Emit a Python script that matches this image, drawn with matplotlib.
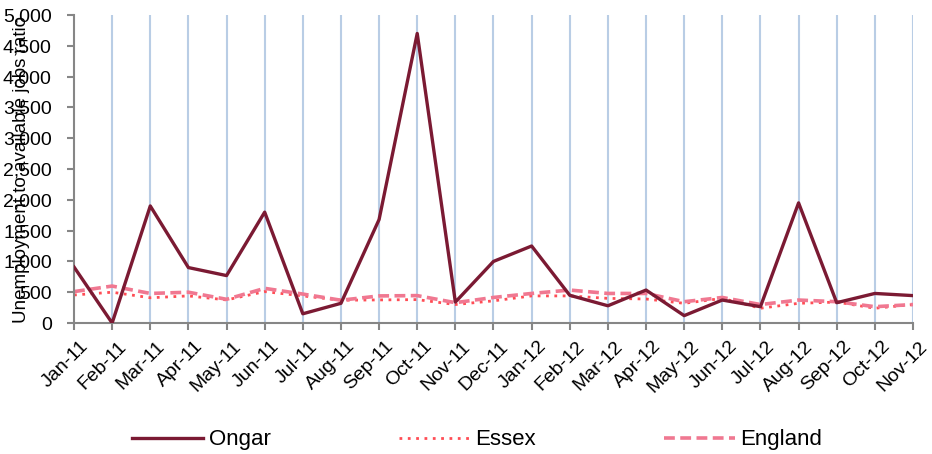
import numpy as np
import matplotlib
matplotlib.use('Agg')
import matplotlib.pyplot as plt
import matplotlib.transforms as mtrans
from matplotlib.ticker import FuncFormatter

plt.rcParams['font.family'] = ['Liberation Sans', 'DejaVu Sans']

months = ['Jan-11', 'Feb-11', 'Mar-11', 'Apr-11', 'May-11', 'Jun-11', 'Jul-11', 'Aug-11',
          'Sep-11', 'Oct-11', 'Nov-11', 'Dec-11', 'Jan-12', 'Feb-12', 'Mar-12', 'Apr-12',
          'May-12', 'Jun-12', 'Jul-12', 'Aug-12', 'Sep-12', 'Oct-12', 'Nov-12']

ongar = [910, 0, 1900, 900, 770, 1800, 150, 320, 1680, 4700, 340, 1000, 1250,
         450, 280, 535, 120, 373, 265, 1950, 330, 480, 445]
essex = [455, 500, 410, 440, 375, 510, 440, 370, 375, 380, 300, 360, 440,
         440, 400, 390, 320, 400, 240, 320, 340, 240, 300]
england = [510, 600, 480, 500, 385, 563, 470, 370, 440, 445, 330, 415, 480,
           535, 480, 480, 346, 415, 300, 373, 346, 265, 300]

x = np.arange(len(months))

fig = plt.figure(figsize=(9.32, 4.54), dpi=100)
ax = fig.add_axes([0.0794, 0.2885, 0.9002, 0.6785])

for xi in x[1:]:
    ax.axvline(xi, color='#B9CDE5', lw=1.5, zorder=0)

ax.plot(x, ongar, color='#7B1A33', lw=2.4, label='Ongar', zorder=3)
ax.plot(x, essex, color='#FF4D55', lw=2.0, ls=(0, (1, 2)), label='Essex', zorder=2)
ax.plot(x, england, color='#F07891', lw=2.6, ls=(0, (3, 1.5)), label='England', zorder=2)

ax.set_xlim(0, len(months) - 1)
ax.set_ylim(0, 5000)
ax.set_yticks(np.arange(0, 5001, 500))
ax.yaxis.set_major_formatter(FuncFormatter(lambda v, p: '{:,.0f}'.format(v)))
ax.set_xticks(x)
ax.set_xticklabels(months, rotation=45, ha='right', va='center', rotation_mode='anchor')

for s in ['top', 'right']:
    ax.spines[s].set_visible(False)
for s in ['left', 'bottom']:
    ax.spines[s].set_color('#868686')
    ax.spines[s].set_linewidth(1.5)
ax.tick_params(axis='both', colors='#868686', width=1.5, length=5, labelcolor='black', labelsize=14)
ax.tick_params(axis='y', pad=11)
ax.tick_params(axis='x', pad=10)

shift = mtrans.ScaledTranslation(12 / 100, 0, fig.dpi_scale_trans)
for lbl in ax.get_xticklabels():
    lbl.set_transform(lbl.get_transform() + shift)

ax.set_ylabel('Unemployment to available jobs ratio', fontsize=13.5)
ax.yaxis.set_label_coords(-0.052, 0.5)

fig.legend(loc='center', bbox_to_anchor=(0.512, 0.031), ncol=3, frameon=False,
           fontsize=16, handlelength=3.2, columnspacing=5.75, handletextpad=0.25)

fig.savefig('out.png', dpi=100)
